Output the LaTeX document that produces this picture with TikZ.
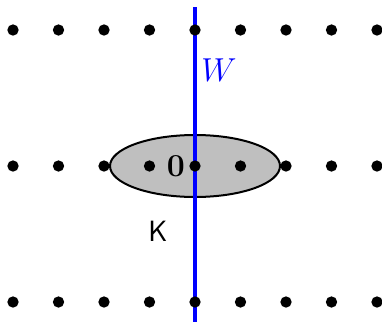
\documentclass[tikz,border=0pt]{standalone}
\usetikzlibrary{shapes.geometric}
\begin{document}
\begin{tikzpicture}[x=0.75pt,y=-0.75pt,
  latdot/.style={circle,fill=black,inner sep=0pt,minimum size=8.5pt},
  region/.style={ellipse,draw=black,line width=1.5pt,fill=black!25,minimum width=127.5pt,minimum height=46.5pt,inner sep=0pt},
  wline/.style={blue,line width=2.5pt},
  lbl/.style={inner sep=0pt,font=\fontsize{24}{26}\selectfont}]
\useasboundingbox (0,0) rectangle (382,322);
\node[region] (K) at (195,166) {};
\coordinate (wtop) at (195,7);
\coordinate (wbot) at (195,322);
\draw[wline] (wtop) -- (wbot);
\foreach \r/\yy in {t/30,m/166,b/302}{
  \foreach \i/\xx in {1/13,2/58.5,3/104,4/149.5,5/195,6/240.5,7/286,8/331.5,9/377}{
    \node[latdot] (d\r\i) at (\xx,\yy) {};
  }
}
\node[lbl,font=\fontsize{24}{26}\selectfont\bfseries] (zero) at (176,166) {0};
\node[lbl,font=\fontsize{22}{24}\selectfont\sffamily] (klbl) at (158,231) {K};
\node[lbl,text=blue] (wlbl) at (219,70) {$W$};
\end{tikzpicture}
\end{document}
